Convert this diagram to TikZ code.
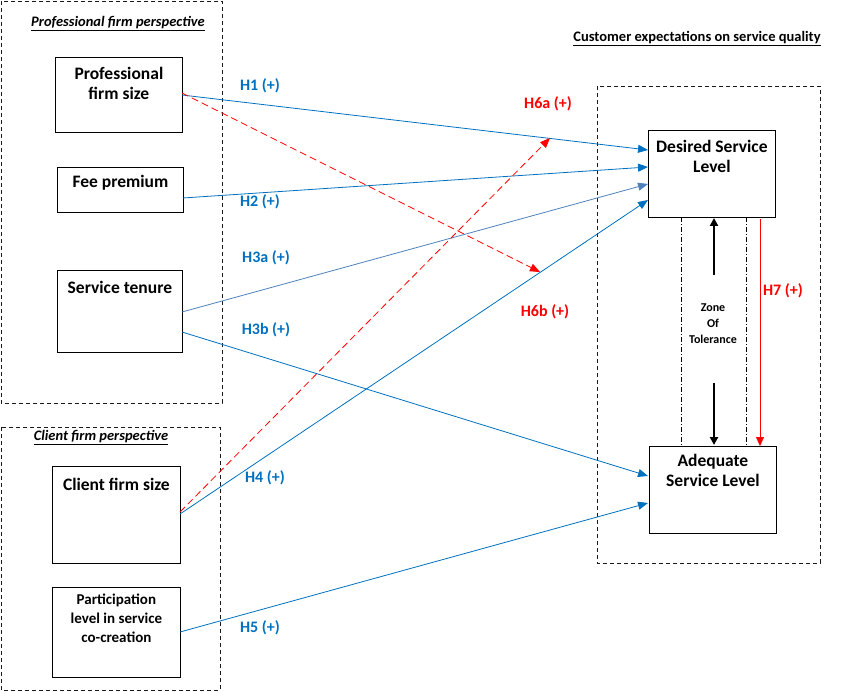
\documentclass[tikz,border=0pt]{standalone}
\usepackage{fontspec}
\setmainfont{Carlito}
\usetikzlibrary{arrows.meta}
\definecolor{hb}{RGB}{0,112,192}
\definecolor{sb}{RGB}{79,129,189}
\begin{document}
\begin{tikzpicture}[x=1pt,y=-1pt,
 box/.style={draw,thick,inner sep=0pt},
 txt/.style={inner sep=4pt,font=\bfseries\fontsize{17.5}{20}\selectfont,align=center},
 grp/.style={draw,dash pattern=on 4pt off 3pt,thick,gray!20!black},
 ar/.style={hb,thick,-{Triangle[length=10pt,width=8pt]}},
 rd/.style={red,thick,dash pattern=on 7pt off 4pt,-{Triangle[length=10pt,width=8pt]}},
 lb/.style={hb,font=\bfseries\fontsize{16}{17}\selectfont},
 rl/.style={red,font=\bfseries\fontsize{16}{17}\selectfont},
 ttl/.style={font=\bfseries\itshape\fontsize{14.5}{15}\selectfont}]
\useasboundingbox (0,0) rectangle (850,692);
\draw[grp] (1,1) rectangle (222,403);
\draw[grp] (1,427) rectangle (220,690);
\draw[grp] (597,86) rectangle (820,563);
\node[ttl] at (118,24) {\underline{Professional firm perspective}};
\node[ttl] at (101,438) {\underline{Client firm perspective}};
\node[font=\bfseries\fontsize{14.5}{15}\selectfont] at (697,39) {\underline{Customer expectations on service quality}};
\node[box,minimum width=127pt,minimum height=75pt,anchor=north west] (pfs) at (55,57) {};
\node[txt,anchor=north] at ([yshift=-6pt]pfs.north) {Professional\\firm size};
\node[box,minimum width=126pt,minimum height=45pt,anchor=north west] (fee) at (57,167) {};
\node[txt,anchor=north] at ([yshift=-4pt]fee.north) {Fee premium};
\node[box,minimum width=125pt,minimum height=82pt,anchor=north west] (st) at (57,270) {};
\node[txt,anchor=north] at ([yshift=-7pt]st.north) {Service tenure};
\node[box,minimum width=128pt,minimum height=97pt,anchor=north west] (cfs) at (52,466) {};
\node[txt,anchor=north] at ([yshift=-8pt]cfs.north) {Client firm size};
\node[box,minimum width=128pt,minimum height=90pt,anchor=north west] (par) at (52,587) {};
\node[txt,anchor=north,font=\bfseries\fontsize{15}{19}\selectfont] at ([yshift=-3pt]par.north) {Participation\\level in service\\co-creation};
\node[box,minimum width=127pt,minimum height=87pt,anchor=north west] (des) at (648,130) {};
\node[txt,anchor=north] at ([yshift=-6pt]des.north) {Desired Service\\Level};
\node[box,minimum width=127pt,minimum height=87pt,anchor=north west] (ade) at (649,446) {};
\node[txt,anchor=north] at ([yshift=-4pt]ade.north) {Adequate\\Service Level};
% zone
\draw[dash pattern=on 5pt off 2pt on 1pt off 2pt,thin] (681,217) -- (681,446);
\draw[dash pattern=on 5pt off 2pt on 1pt off 2pt,thin] (746,217) -- (746,446);
\coordinate (z1) at (714,275); \coordinate (z2) at (714,383);
\draw[line width=2pt,-{Triangle[length=8pt,width=8pt]}] (z1) -- (714,218);
\draw[line width=2pt,-{Triangle[length=8pt,width=8pt]}] (z2) -- (714,445);
\node[font=\bfseries\fontsize{12}{16}\selectfont,align=center] (zt) at (713,324) {Zone\\Of\\Tolerance};
\draw[red,-{Triangle[length=9pt,width=8pt]}] (760,219) -- (760,446);
\node[rl] at (783,291) {H7 (+)};
% arrows
\draw[ar] (182,95) -- (648,150);
\draw[ar] (183,198) -- (648,167);
\draw[ar,sb] (182,312) -- (648,184);
\draw[ar] (180,514) -- (648,200);
\draw[ar] (182,332) -- (648,476);
\draw[ar] (180,632) -- (648,503);
\coordinate (h6a) at (550,138); \coordinate (h6b) at (540,272);
\draw[rd] (180,512) -- (h6a);
\draw[rd] (182,93) -- (h6b);
\node[lb] at (260,86) {H1 (+)};
\node[lb] at (260,202) {H2 (+)};
\node[lb] at (266,258) {H3a (+)};
\node[lb] at (266,330) {H3b (+)};
\node[lb] at (265,478) {H4 (+)};
\node[lb] at (260,628) {H5 (+)};
\node[rl] at (548,104) {H6a (+)};
\node[rl] at (545,312) {H6b (+)};
\end{tikzpicture}
\end{document}
